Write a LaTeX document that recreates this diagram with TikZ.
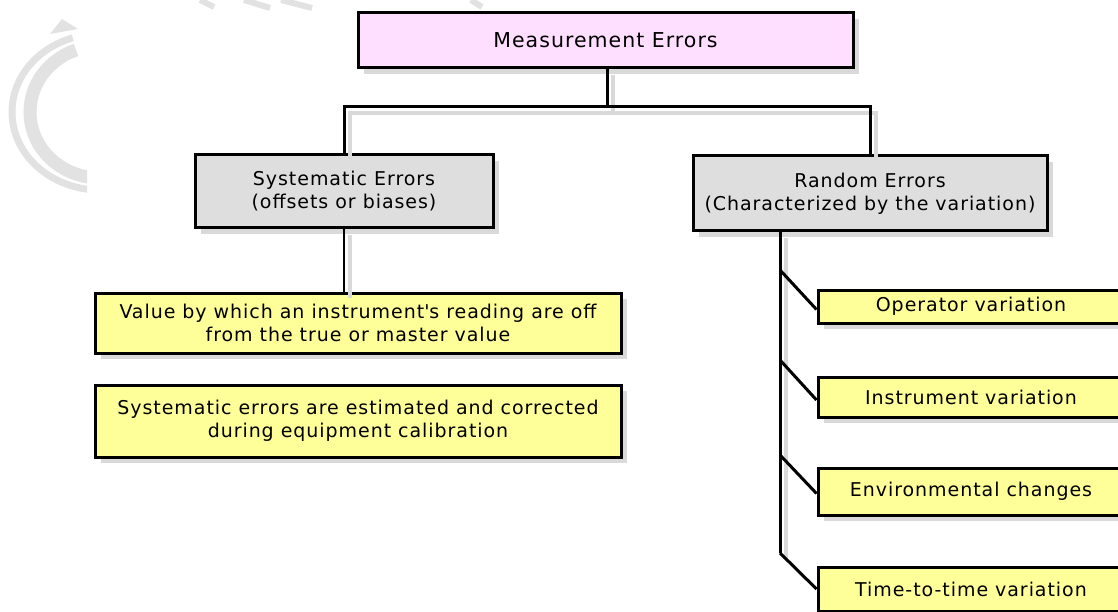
\documentclass[tikz,border=0pt]{standalone}
\usepackage{fontspec}
\setmainfont{DejaVu Sans}[LetterSpace=5]
\usetikzlibrary{shadows,calc}
\definecolor{pinkfill}{HTML}{FFDFFF}
\definecolor{grayfill}{HTML}{DEDEDE}
\definecolor{yellowfill}{HTML}{FFFF99}
\definecolor{shadowgray}{HTML}{D9D9D9}
\definecolor{wmgray}{HTML}{E2E2E2}
\begin{document}
\begin{tikzpicture}[x=1pt,y=-1pt,
  box/.style={draw=black, line width=3pt, inner sep=0pt, align=center,
    font=\fontsize{19}{23}\selectfont,
    drop shadow={shadow xshift=6pt, shadow yshift=-6pt, fill=shadowgray, opacity=1}},
  topbox/.style={box, fill=pinkfill, font=\fontsize{20.5}{24}\selectfont},
  graybox/.style={box, fill=grayfill},
  yelbox/.style={box, fill=yellowfill},
  conn/.style={line width=3pt, draw=black},
  thinconn/.style={line width=1.2pt, draw=black},
  shconn/.style={line width=4pt, draw=shadowgray},
  wm/.style={draw=wmgray}
]
\useasboundingbox (0,0) rectangle (1118,612);
% watermark
\begin{scope}
  \clip (0,0) rectangle (87,250);
  \draw[wm, line width=7pt] (100,112) ++(85:{88} and {78}) arc[start angle=85, end angle=252, x radius=88, y radius=78];
  \draw[wm, line width=13pt] (100,112) ++(82:{70} and {66}) arc[start angle=82, end angle=250, x radius=70, y radius=66];
\end{scope}
\fill[wmgray] (50,34) -- (62,19) -- (78,29) -- cycle;
\draw[wm, line width=6pt] (200,0) -- (214,7);
\draw[wm, line width=6pt] (244,0) -- (270,8);
\draw[wm, line width=6pt] (281,0) -- (312,8);
\draw[wm, line width=6pt] (471,0) -- (482,7);

% nodes
\node[topbox, minimum width=495pt, minimum height=55pt] (top) at (605.5,40.5) {Measurement Errors};
\node[graybox, minimum width=298pt, minimum height=73pt] (sys) at (344,191.5) {Systematic Errors\\(offsets or biases)};
\node[graybox, minimum width=354pt, minimum height=75pt] (ran) at (870,193.5) {Random Errors\\(Characterized by the variation)};
\node[yelbox, minimum width=526pt, minimum height=60pt] (val) at (358,323) {Value by which an instrument\textquotesingle s reading are off\\from the true or master value};
\node[yelbox, minimum width=526pt, minimum height=72pt] (cal) at (358,421) {Systematic errors are estimated and corrected\\during equipment calibration};
\node[yelbox, minimum width=306pt, minimum height=33pt] (op) at (971,306.5) {Operator variation};
\node[yelbox, minimum width=306pt, minimum height=40pt] (ins) at (971,397) {Instrument variation};
\node[yelbox, minimum width=306pt, minimum height=47pt] (env) at (971,491.5) {Environmental changes};
\node[yelbox, minimum width=306pt, minimum height=44pt] (tim) at (971,589) {Time-to-time variation};

\coordinate (bus) at (607,107);
\coordinate (b1) at (780,270);
\coordinate (b2) at (780,360);
\coordinate (b3) at (780,455);
\coordinate (b4) at (780,553);

% connector shadows
\begin{scope}[transform canvas={shift={(6,6)}}]
  \draw[shconn] (top.south -| bus) -- (bus);
  \draw[shconn] (sys.north) |- (bus) -| (ran.north);
  \draw[shconn] (sys.south) -- (val.north -| sys.south);
  \draw[shconn] (ran.south -| b1) -- (b4);
\end{scope}
% connectors
\draw[conn] (top.south -| bus) -- (bus);
\draw[conn] (sys.north) |- (bus) -| (ran.north);
\draw[thinconn] (sys.south) -- (val.north -| sys.south);
\draw[conn] (ran.south -| b1) -- (b4);
\draw[conn] (b1) -- ($(op.west)+(0,3)$);
\draw[conn] (b2) -- ($(ins.west)+(0,3)$);
\draw[conn] (b3) -- ($(env.west)+(0,2)$);
\draw[conn] (b4) -- (tim.west);
\end{tikzpicture}
\end{document}
